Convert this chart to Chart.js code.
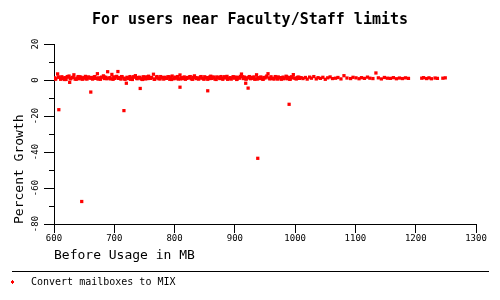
<!DOCTYPE html>
<html>
<head>
<meta charset="utf-8">
<script src="https://cdn.jsdelivr.net/npm/chart.js@4/dist/chart.umd.min.js"></script>
<style>
  body { margin: 0; background: #fff; }
  canvas { display: block; }
</style>
</head>
<body>
<canvas id="growth-chart" width="500" height="300"></canvas>
<script>
// Before usage (MB) for each user
const usageMB = [
  601,603,606,608,611,613,616,618,620,623,625,628,630,633,635,638,640,642,645,647,650,652,655,657,660,
  662,664,667,669,672,674,677,679,682,684,686,689,691,694,696,699,701,704,706,708,711,713,716,718,721,
  723,726,728,730,733,735,738,740,743,745,748,750,752,755,757,760,762,765,767,770,772,774,777,779,782,
  784,787,789,792,794,796,799,801,804,806,809,811,814,816,818,821,823,826,828,831,833,836,838,840,843,
  845,848,850,853,855,858,860,862,865,867,870,872,875,877,880,882,884,887,889,892,894,897,899,902,904,
  906,909,911,914,916,919,921,924,926,928,931,933,936,938,941,943,946,948,950,953,955,958,960,963,965,
  968,970,972,975,977,980,982,985,987,990,992,994,997,999,1002,1004,1007,1010,
  602,607,612,617,622,627,632,637,643,648,653,658,663,668,673,678,683,688,693,698,
  703,707,712,717,722,727,732,737,742,747,751,756,761,766,771,776,781,786,791,795,
  800,805,810,815,820,825,830,835,839,844,849,854,859,864,869,874,879,883,888,893,
  898,903,908,913,918,923,927,932,937,942,947,952,957,962,967,971,976,981,986,991,
  996,1001,1006,
  1013,1017,1020,1024,1027,1031,1035,1038,1042,1046,1050,1054,1058,1062,
  1067,1071,1076,1081,1086,1092,1096,1101,1106,1110,1115,1120,1124,1129,1134,1138,1143,1148,1153,1158,1163,1168,1173,1178,1183,1188,
  1210,1213,1218,1222,1226,1232,1236,1245,1249,
  608,626,646,661,716,720,743,809,855,918,922,938,990
];

// Percent growth after conversion
const growthPct = [
  1.2,0.6,3.4,1.5,0.4,1.8,0.9,1.3,0.3,1.6,2.2,0.8,1.4,2.9,0.5,1.1,1.9,0.7,1.5,0.4,1.3,2.0,0.6,1.7,1.0,
  1.4,0.5,1.8,0.9,3.5,1.2,0.4,1.6,2.3,0.8,1.5,4.6,1.1,0.6,3.1,1.7,0.9,2.0,4.7,1.3,0.5,1.8,1.0,0.4,1.5,
  0.8,1.9,1.2,0.3,1.6,2.4,0.7,1.4,1.0,0.5,1.8,1.3,0.6,1.7,2.1,0.9,1.4,3.2,0.4,1.6,1.1,0.7,1.9,1.3,0.5,
  1.5,0.9,1.8,0.4,1.2,2.2,0.7,1.6,1.0,0.5,2.8,1.3,0.8,1.7,0.4,1.4,1.1,1.9,0.6,1.5,2.3,0.8,1.2,0.5,1.7,
  1.0,0.6,1.8,1.3,0.4,1.6,2.1,0.9,1.4,0.5,1.7,1.2,0.8,1.9,0.4,1.5,1.1,2.0,0.7,1.3,0.5,1.8,1.0,1.6,0.6,
  1.4,2.0,3.3,0.8,1.6,0.5,1.2,1.9,0.7,1.5,1.0,0.4,2.9,1.3,0.8,1.7,0.5,1.4,1.1,2.2,3.5,0.6,1.8,1.0,0.5,
  1.5,0.9,1.7,1.2,0.4,1.6,1.0,2.1,0.7,1.4,0.5,1.8,3.0,1.1,0.6,1.5,0.9,1.3,
  0.5,1.7,1.1,0.3,1.9,0.7,1.5,0.4,1.8,1.0,0.6,1.4,0.9,1.9,0.5,1.2,1.8,0.7,1.3,0.4,
  1.6,0.9,1.9,0.6,1.2,0.4,1.8,1.0,1.5,0.3,1.7,0.8,1.3,0.5,1.9,0.6,1.4,0.9,1.8,0.3,
  1.1,1.9,0.6,1.2,0.9,1.7,0.4,1.3,0.8,1.9,0.5,1.2,0.8,1.7,0.3,1.5,0.9,1.8,0.4,1.1,
  1.7,0.3,1.0,1.8,0.6,1.4,0.9,1.7,0.5,1.2,0.4,1.6,1.1,0.8,1.9,0.5,1.3,0.7,1.8,0.4,
  1.2,0.8,1.6,
  0.8,1.4,0.5,1.6,1.0,1.9,0.6,1.3,0.9,1.5,0.4,1.2,1.7,0.8,
  1.0,1.4,0.6,2.4,1.1,0.8,1.5,1.2,0.7,1.3,0.9,1.6,1.0,0.8,3.9,1.2,0.6,1.4,1.0,0.9,1.3,0.7,1.1,0.8,1.2,0.9,
  1.0,1.3,0.8,1.2,0.7,1.1,0.9,1.0,1.2,
  -16.5,-1.3,-67.5,-6.7,-17,-1.8,-4.7,-4,-6,-1.8,-4.5,-43.5,-13.5
];

const seriesLabel = "Convert mailboxes to MIX";
const yMinorTicks = [10, -10, -30, -50, -70];

const mono = "'DejaVu Sans Mono', 'Liberation Mono', monospace";

// Minor ticks on the y axis and the legend under the rule
const extrasPlugin = {
  id: "extras",
  afterDraw(chart) {
    const ctx = chart.ctx;
    const yScale = chart.scales.y;
    const left = chart.chartArea.left;
    ctx.save();
    ctx.strokeStyle = "#000";
    ctx.lineWidth = 1;
    yMinorTicks.forEach((v) => {
      const py = Math.round(yScale.getPixelForValue(v)) + 0.5;
      ctx.beginPath();
      ctx.moveTo(left - 5, py);
      ctx.lineTo(left, py);
      ctx.stroke();
    });

    // legend
    ctx.beginPath();
    ctx.moveTo(12, 271.5);
    ctx.lineTo(489, 271.5);
    ctx.stroke();
    ctx.fillStyle = chart.data.datasets[0].backgroundColor;
    ctx.fillRect(11, 281, 3, 2);
    ctx.fillRect(12, 280, 1, 4);
    ctx.fillStyle = "#000";
    ctx.font = "10px " + mono;
    ctx.textBaseline = "middle";
    ctx.textAlign = "left";
    ctx.fillText(chart.data.datasets[0].label, 31, 282);
    ctx.restore();
  },
};

new Chart(document.getElementById("growth-chart").getContext("2d"), {
  type: "scatter",
  data: {
    datasets: [
      {
        label: seriesLabel,
        data: usageMB.map((x, i) => ({ x: x, y: growthPct[i] })),
        backgroundColor: "#ff0000",
        borderWidth: 0,
        pointStyle: "rect",
        pointRadius: 2.3,
        pointHoverRadius: 2.3,
      },
    ],
  },
  options: {
    responsive: false,
    animation: false,
    devicePixelRatio: 1,
    layout: { padding: { left: 0, right: 0, top: 0, bottom: 36 } },
    plugins: {
      legend: { display: false },
      tooltip: { enabled: false },
      title: {
        display: true,
        text: "For users near Faculty/Staff limits",
        color: "#000",
        font: { family: mono, size: 15, weight: "bold" },
        padding: { top: 11, bottom: 15 },
      },
    },
    scales: {
      x: {
        type: "linear",
        min: 600,
        max: 1300,
        afterFit: (scale) => { scale.height = 40; },
        ticks: {
          stepSize: 100,
          color: "#000",
          padding: 0,
          font: { family: mono, size: 9 },
          callback: (v) => String(v),
        },
        grid: { display: true, drawOnChartArea: false, drawTicks: true, tickLength: 9, color: "#000" },
        border: { display: true, color: "#000" },
        title: {
          display: true,
          text: "Before Usage in MB",
          align: "start",
          color: "#000",
          font: { family: mono, size: 13 },
          padding: { top: 0, bottom: 1 },
        },
      },
      y: {
        type: "linear",
        min: -80,
        max: 20,
        afterFit: (scale) => { scale.width = 54; },
        ticks: {
          stepSize: 20,
          color: "#000",
          padding: 0,
          autoSkip: false,
          minRotation: 90,
          maxRotation: 90,
          crossAlign: "center",
          font: { family: mono, size: 9 },
        },
        grid: { display: true, drawOnChartArea: false, drawTicks: true, tickLength: 10, color: "#000" },
        border: { display: true, color: "#000" },
        title: {
          display: true,
          text: "Percent Growth",
          align: "start",
          color: "#000",
          font: { family: mono, size: 13 },
          padding: { top: 12, bottom: 0 },
        },
      },
      // empty right-hand box so the plot ends at the same place as the reference
      spacer: {
        type: "linear",
        position: "right",
        min: 0,
        max: 1,
        afterFit: (scale) => { scale.width = 24; },
        ticks: { display: false },
        grid: { display: false },
        border: { display: false },
      },
    },
  },
  plugins: [extrasPlugin],
});
</script>
</body>
</html>
